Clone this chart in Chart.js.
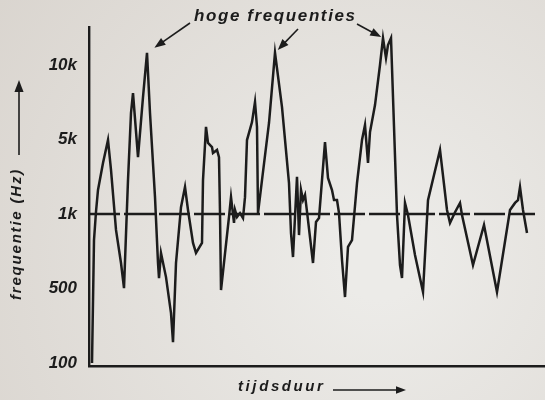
<!DOCTYPE html>
<html>
<head>
<meta charset="utf-8">
<script src="https://cdn.jsdelivr.net/npm/chart.js@4.4.1/dist/chart.umd.min.js"></script>
<style>
  html, body { margin: 0; padding: 0; background: #e6e3df; }
  #wrap { width: 545px; height: 400px; }
</style>
</head>
<body>
<div id="wrap"><canvas id="freqChart" width="545" height="400"></canvas></div>
<script>
// tijd (willekeurige eenheden) en de gemeten frequentie in Hz
const tijd = [
  3, 5, 7, 9, 14, 19, 22, 27, 32, 35, 39, 42, 44, 49, 54, 58, 61, 66, 69, 70,
  72, 77, 82, 84, 87, 92, 96, 99, 104, 107, 113, 114, 117, 119, 123, 124, 128, 130, 131, 132,
  140, 142, 145, 146, 148, 151, 154, 156, 158, 163, 166, 168, 169, 173, 180, 186, 193, 200, 202, 204,
  208, 210, 212, 214, 216, 219, 224, 227, 230, 236, 239, 243, 245, 248, 250, 253, 256, 259, 263, 268,
  273, 276, 279, 281, 286, 291, 294, 297, 299, 302, 308, 311, 313, 316, 319, 326, 334, 339, 345, 351,
  358, 361, 366, 371, 373, 384, 395, 408, 421, 426, 429, 431, 434, 438
];
const frequentie = [
  100, 785, 1050, 1680, 3010, 4940, 2590, 862, 634, 502, 2080, 6400, 7700, 3420, 7420, 11200, 6400, 1440, 634, 551,
  696, 556, 294, 157, 634, 1160, 1790, 1090, 764, 696, 764, 2080, 5620, 4640, 4250, 3740, 3990, 3420, 1020, 484,
  973, 1440, 920, 1090, 973, 1020, 963, 1440, 4940, 5880, 7090, 5620, 1020, 2080, 5830, 11200, 6760, 1950, 838, 670,
  2230, 822, 1680, 1350, 1510, 945, 634, 928, 963, 4730, 2180, 1680, 1350, 1350, 1020, 652, 416, 736, 785, 1950,
  4940, 5720, 3010, 5360, 6890, 10000, 12850, 10670, 12040, 12850, 991, 622, 551, 1270, 991, 683, 464, 1350, 2320, 3990,
  1090, 920, 1040, 1270, 991, 622, 903, 464, 1090, 1270, 1350, 1790, 1090, 838
];

// schaalverdeling van de frequentie-as (gelijke afstanden tussen de streepjes)
const asWaarden = [100, 500, 1000, 5000, 10000];
const asLabels = ['100', '500', '1k', '5k', '10k'];

// gestippelde referentielijn bij 1 kHz
const referentieFreq = 1000;
const referentieTijd = [0, 446];

// tijdstippen van de pieken waar de pijlen naar wijzen
const piekTijden = [58, 186, 294];

const inkt = '#1c1c1c';

// Hz -> positie op de as; tussen twee streepjes logaritmisch
function hzNaarNiveau(hz) {
  const n = asWaarden.length;
  if (hz >= asWaarden[n - 1]) {
    return (n - 1) + Math.log(hz / asWaarden[n - 1]) / Math.log(asWaarden[n - 1] / asWaarden[n - 2]);
  }
  if (hz <= asWaarden[0]) {
    return Math.log(hz / asWaarden[0]) / Math.log(asWaarden[1] / asWaarden[0]);
  }
  for (let i = 0; i < n - 1; i++) {
    if (hz <= asWaarden[i + 1]) {
      return i + Math.log(hz / asWaarden[i]) / Math.log(asWaarden[i + 1] / asWaarden[i]);
    }
  }
}

const meetpunten = tijd.map((t, i) => ({ x: t, y: hzNaarNiveau(frequentie[i]) }));
const referentie = referentieTijd.map(t => ({ x: t, y: hzNaarNiveau(referentieFreq) }));

function pijl(ctx, x1, y1, x2, y2, dikte, kop) {
  const hoek = Math.atan2(y2 - y1, x2 - x1);
  ctx.save();
  ctx.strokeStyle = inkt;
  ctx.fillStyle = inkt;
  ctx.lineWidth = dikte;
  ctx.beginPath();
  ctx.moveTo(x1, y1);
  ctx.lineTo(x2 - Math.cos(hoek) * kop * 0.7, y2 - Math.sin(hoek) * kop * 0.7);
  ctx.stroke();
  ctx.translate(x2, y2);
  ctx.rotate(hoek);
  ctx.beginPath();
  ctx.moveTo(0, 0);
  ctx.lineTo(-kop, -kop * 0.38);
  ctx.lineTo(-kop, kop * 0.38);
  ctx.closePath();
  ctx.fill();
  ctx.restore();
}

const decoratie = {
  id: 'decoratie',
  beforeDraw(chart) {
    const ctx = chart.ctx;
    const g = ctx.createRadialGradient(380, 260, 40, 380, 260, 480);
    g.addColorStop(0, '#ecebe8');
    g.addColorStop(1, '#d9d4ce');
    ctx.save();
    ctx.fillStyle = g;
    ctx.fillRect(0, 0, chart.width, chart.height);
    ctx.restore();
  },
  afterDraw(chart) {
    const ctx = chart.ctx;
    const xs = chart.scales.x;
    const ys = chart.scales.y;
    ctx.save();
    ctx.fillStyle = inkt;
    ctx.textBaseline = 'middle';

    // aantekening boven de pieken
    ctx.font = 'italic bold 17px "Liberation Sans"';
    ctx.letterSpacing = '1.6px';
    ctx.textAlign = 'left';
    ctx.fillText('hoge frequenties', 194, 16);

    const starts = [[190, 23], [298, 29], [357, 24]];
    const afstand = [9, 4, 2];
    piekTijden.forEach((t, i) => {
      const k = tijd.indexOf(t);
      const px = xs.getPixelForValue(t);
      const py = ys.getPixelForValue(hzNaarNiveau(frequentie[k]));
      const [sx, sy] = starts[i];
      const d = Math.hypot(px - sx, py - sy);
      const tx = px - (px - sx) / d * afstand[i];
      const ty = py - (py - sy) / d * afstand[i];
      pijl(ctx, sx, sy, tx, ty, 1.6, 11);
    });

    // astitel tijd
    ctx.font = 'italic bold 15px "Liberation Sans"';
    ctx.letterSpacing = '2.6px';
    ctx.fillText('tijdsduur', 238, 387);
    pijl(ctx, 333, 390, 406, 390, 1.6, 10);

    // astitel frequentie, verticaal
    ctx.translate(17, 234);
    ctx.rotate(-Math.PI / 2);
    ctx.textAlign = 'center';
    ctx.font = 'italic bold 15px "Liberation Sans"';
    ctx.letterSpacing = '1.8px';
    ctx.fillText('frequentie (Hz)', 0, 0);
    ctx.restore();
    pijl(ctx, 19, 155, 19, 80, 1.6, 12);
  }
};

new Chart(document.getElementById('freqChart'), {
  type: 'line',
  data: {
    datasets: [
      {
        data: meetpunten,
        borderColor: inkt,
        borderWidth: 2.5,
        pointRadius: 0,
        tension: 0,
        borderJoinStyle: 'miter'
      },
      {
        data: referentie,
        borderColor: inkt,
        borderWidth: 2.4,
        borderDash: [31, 4],
        pointRadius: 0,
        tension: 0
      }
    ]
  },
  options: {
    responsive: false,
    animation: false,
    events: [],
    layout: { padding: { top: 27, right: 0, left: 0, bottom: 0 } },
    plugins: {
      legend: { display: false },
      tooltip: { enabled: false }
    },
    scales: {
      x: {
        type: 'linear',
        min: 0,
        max: 456,
        grid: { display: false, drawTicks: false },
        border: { color: inkt, width: 2.6 },
        ticks: { display: false },
        afterFit: s => { s.height = 34; }
      },
      y: {
        type: 'linear',
        min: -0.04,
        max: 4.51,
        grid: { display: false, drawTicks: false },
        border: { color: inkt, width: 2.4 },
        afterBuildTicks: s => { s.ticks = asWaarden.map((v, i) => ({ value: i })); },
        ticks: {
          padding: 12,
          color: inkt,
          font: { family: 'Liberation Sans', size: 17, style: 'italic', weight: 'bold' },
          callback: v => asLabels[v]
        },
        afterFit: s => { s.width = 89; }
      }
    }
  },
  plugins: [decoratie]
});
</script>
</body>
</html>
